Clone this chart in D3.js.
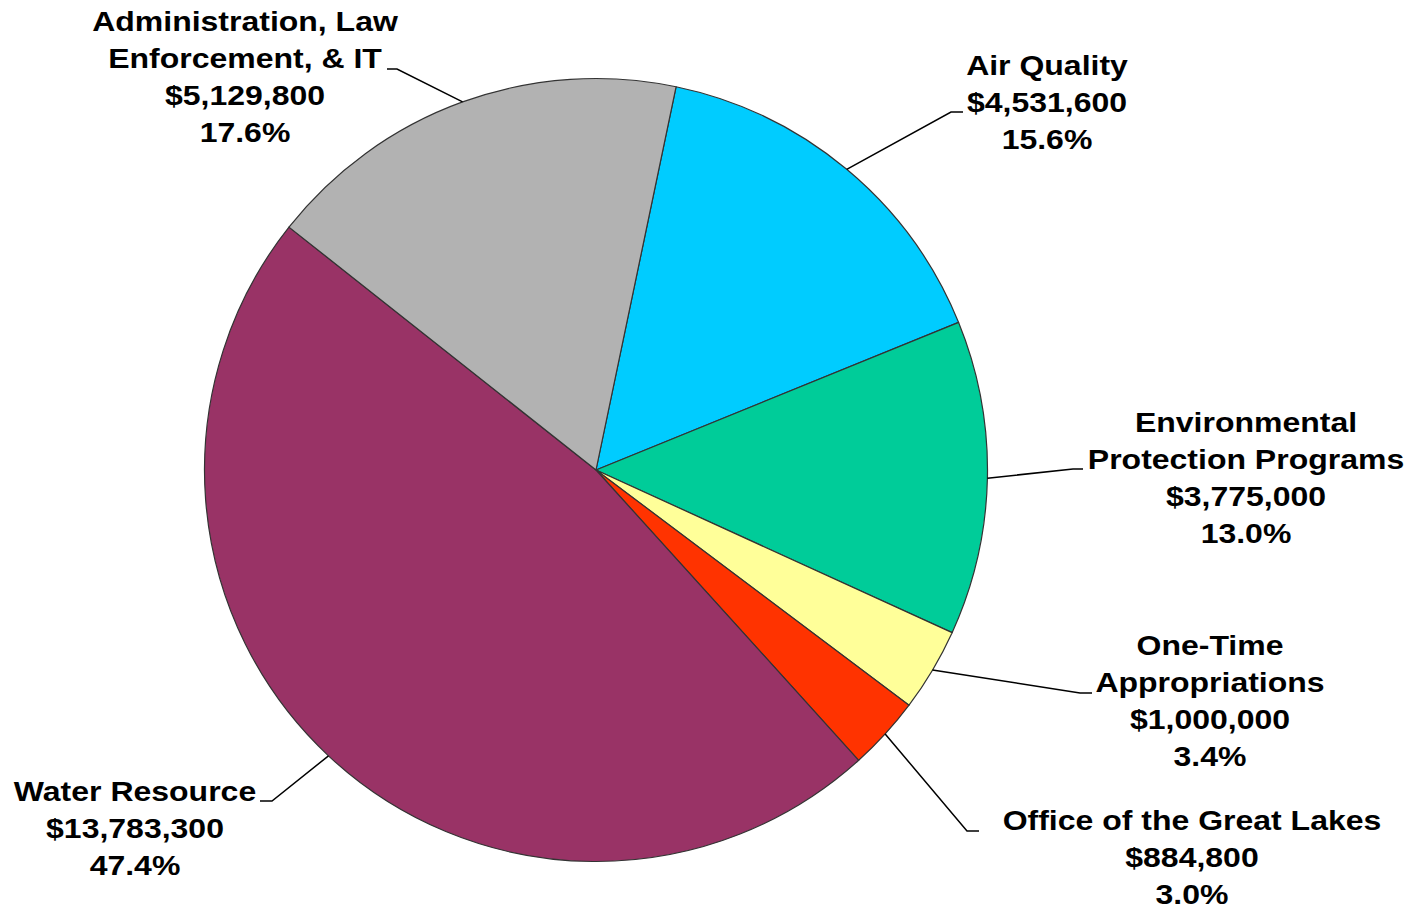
<!DOCTYPE html>
<html>
<head>
<meta charset="utf-8">
<script src="https://cdn.jsdelivr.net/npm/d3@7"></script>
<style>
  html, body { margin: 0; padding: 0; background: #fff; }
  svg { display: block; }
  text { font-family: "Liberation Sans", Arial, sans-serif; font-weight: bold; font-size: 27px; fill: #000; }
</style>
</head>
<body>
<svg id="chart" width="1419" height="908"></svg>
<script>
// ---- Data ----
const categories = [
  "Air Quality",
  "Environmental\nProtection Programs",
  "One-Time\nAppropriations",
  "Office of the Great Lakes",
  "Water Resource",
  "Administration, Law\nEnforcement, & IT"
];
const values = [4531600, 3775000, 1000000, 884800, 13783300, 5129800];
const colors = ["#00CCFF", "#00CC99", "#FFFF99", "#FF3300", "#993366", "#B2B2B2"];

// ---- Label layout (text centre x, first baseline y, elbow point, end of horizontal stub) ----
const labelLayout = [
  { cx: 1047, y0: 75,  ex: 951,  ey: 112, hx: 963 },
  { cx: 1246, y0: 432, ex: 1073, ey: 469, hx: 1083 },
  { cx: 1210, y0: 655, ex: 1080, ey: 693, hx: 1092 },
  { cx: 1192, y0: 830, ex: 967,  ey: 831, hx: 979 },
  { cx: 135,  y0: 801, ex: 272,  ey: 801, hx: 260 },
  { cx: 245,  y0: 31,  ex: 397,  ey: 69,  hx: 387 }
];

const width = 1419, height = 908;
const cx = 596, cy = 470, radius = 391.5;
const lineH = 37;
const textStretch = 1.185;
const startOffset = 11.8 * Math.PI / 180;

const svg = d3.select("#chart");
const total = d3.sum(values);
const fmtMoney = d3.format("$,");
const fmtPct = d3.format(".1%");

const data = categories.map((c, i) => ({ name: c, value: values[i], color: colors[i], layout: labelLayout[i] }));

const pie = d3.pie().value(d => d.value).sort(null)
  .startAngle(startOffset).endAngle(startOffset + 2 * Math.PI);
const arcs = pie(data);
const arc = d3.arc().innerRadius(0).outerRadius(radius);

const g = svg.append("g").attr("transform", `translate(${cx},${cy})`);
g.selectAll("path.slice").data(arcs).join("path")
  .attr("class", "slice")
  .attr("d", arc)
  .attr("fill", d => d.data.color)
  .attr("stroke", "#333333")
  .attr("stroke-width", 1.2)
  .attr("stroke-linejoin", "round");

// leader lines
const leaders = svg.append("g");
arcs.forEach(a => {
  const mid = (a.startAngle + a.endAngle) / 2;
  const px = cx + radius * Math.sin(mid);
  const py = cy - radius * Math.cos(mid);
  const L = a.data.layout;
  leaders.append("polyline")
    .attr("points", `${px},${py} ${L.ex},${L.ey} ${L.hx},${L.ey}`)
    .attr("fill", "none")
    .attr("stroke", "#000")
    .attr("stroke-width", 1.5);
});

// labels
const labels = svg.append("g");
arcs.forEach(a => {
  const L = a.data.layout;
  const lines = a.data.name.split("\n").concat([fmtMoney(a.data.value), fmtPct(a.data.value / total)]);
  const t = labels.append("text")
    .attr("text-anchor", "middle")
    .attr("transform", `translate(${L.cx},0) scale(${textStretch},1)`);
  lines.forEach((ln, k) => {
    t.append("tspan").attr("x", 0).attr("y", L.y0 + k * lineH).text(ln);
  });
});
</script>
</body>
</html>
